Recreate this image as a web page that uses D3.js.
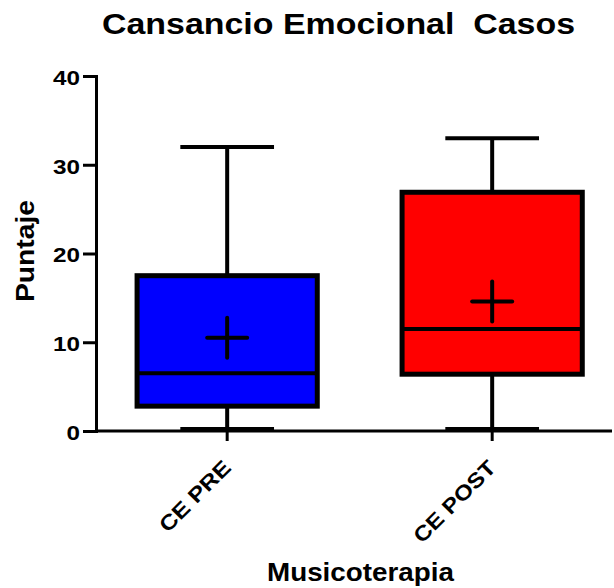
<!DOCTYPE html>
<html lang="es">
<head>
<meta charset="UTF-8">
<title>Cansancio Emocional Casos</title>
<script src="https://d3js.org/d3.v7.min.js"></script>
<style>
  body { margin: 0; background: #fff; }
  text { font-family: "Liberation Sans", Arial, sans-serif; font-weight: bold; fill: #000; }
</style>
</head>
<body>
<div id="chart"></div>
<script>
  const categories = ['CE PRE', 'CE POST'];
  const mins = [0, 0];
  const q1s = [2.8, 6.4];
  const medians = [6.5, 11.5];
  const q3s = [17.5, 26.9];
  const maxs = [32, 33];
  const means = [10.5, 14.6];
  const colors = ['#0000ff', '#ff0000'];
  const yTicks = [0, 10, 20, 30, 40];

  const width = 614;
  const height = 588;
  const margin = { top: 76, right: 0, bottom: 157, left: 96 };

  const svg = d3.select('#chart')
    .append('svg')
    .attr('width', width)
    .attr('height', height);

  // step 265, band 180
  const x = d3.scaleBand()
    .domain(categories)
    .range([margin.left, margin.left + 265 * (2 - 0.32 + 2 * 0.155)])
    .paddingInner(0.32)
    .paddingOuter(0.155);

  const y = d3.scaleLinear()
    .domain([0, 40])
    .range([height - margin.bottom, margin.top]);

  const boxes = categories.map((c, i) => ({
    cat: c, min: mins[i], q1: q1s[i], med: medians[i], q3: q3s[i], max: maxs[i], mean: means[i], color: colors[i]
  }));

  // y axis
  const yAxis = svg.append('g')
    .attr('transform', `translate(${margin.left},0)`)
    .call(d3.axisLeft(y).tickValues(yTicks).tickSize(13).tickPadding(3));
  yAxis.select('.domain').attr('stroke', '#000').attr('stroke-width', 3);
  yAxis.selectAll('.tick line').attr('stroke', '#000').attr('stroke-width', 3);
  yAxis.selectAll('.tick text')
    .style('font-size', '21px')
    .style('font-family', '"Liberation Sans", Arial, sans-serif')
    .style('font-weight', 'bold')
    .attr('dy', '0.4em')
    .attr('textLength', d => String(d).length * 13.5)
    .attr('lengthAdjust', 'spacingAndGlyphs');

  // x axis line
  svg.append('line')
    .attr('x1', margin.left).attr('x2', width - 2)
    .attr('y1', y(0)).attr('y2', y(0))
    .attr('stroke', '#000').attr('stroke-width', 3);

  const cx = d => x(d.cat) + x.bandwidth() / 2;
  const capW = x.bandwidth() * 0.52;

  const g = svg.selectAll('.box')
    .data(boxes)
    .enter().append('g');

  // whiskers
  g.append('line')
    .attr('x1', cx).attr('x2', cx)
    .attr('y1', d => y(d.max)).attr('y2', d => y(d.min))
    .attr('stroke', '#000').attr('stroke-width', 4);
  g.append('line')
    .attr('x1', d => cx(d) - capW / 2).attr('x2', d => cx(d) + capW / 2)
    .attr('y1', d => y(d.max)).attr('y2', d => y(d.max))
    .attr('stroke', '#000').attr('stroke-width', 4);
  g.append('line')
    .attr('x1', d => cx(d) - capW / 2).attr('x2', d => cx(d) + capW / 2)
    .attr('y1', d => y(d.min) - 2).attr('y2', d => y(d.min) - 2)
    .attr('stroke', '#000').attr('stroke-width', 4);

  // box
  g.append('rect')
    .attr('x', d => x(d.cat))
    .attr('width', x.bandwidth())
    .attr('y', d => y(d.q3))
    .attr('height', d => y(d.q1) - y(d.q3))
    .attr('fill', d => d.color)
    .attr('stroke', '#000').attr('stroke-width', 5);

  // median
  g.append('line')
    .attr('x1', d => x(d.cat)).attr('x2', d => x(d.cat) + x.bandwidth())
    .attr('y1', d => y(d.med)).attr('y2', d => y(d.med))
    .attr('stroke', '#000').attr('stroke-width', 4);

  // mean cross
  g.append('line')
    .attr('x1', d => cx(d) - 20).attr('x2', d => cx(d) + 20)
    .attr('y1', d => y(d.mean)).attr('y2', d => y(d.mean))
    .attr('stroke', '#000').attr('stroke-width', 4).attr('stroke-linecap', 'round');
  g.append('line')
    .attr('x1', cx).attr('x2', cx)
    .attr('y1', d => y(d.mean) - 20).attr('y2', d => y(d.mean) + 20)
    .attr('stroke', '#000').attr('stroke-width', 4).attr('stroke-linecap', 'round');

  // x ticks
  g.append('line')
    .attr('x1', cx).attr('x2', cx)
    .attr('y1', y(0)).attr('y2', y(0) + 10)
    .attr('stroke', '#000').attr('stroke-width', 3);

  // x tick labels
  g.append('text')
    .attr('transform', d => `translate(${cx(d) + 5},${y(0) + 38}) rotate(-45)`)
    .attr('text-anchor', 'end')
    .style('font-size', '21px')
    .attr('textLength', d => d.cat.length * 15.2)
    .attr('lengthAdjust', 'spacingAndGlyphs')
    .text(d => d.cat);

  // titles
  svg.append('text')
    .attr('x', 102).attr('y', 34)
    .style('font-size', '29px')
    .attr('textLength', 473)
    .attr('lengthAdjust', 'spacingAndGlyphs')
    .style('white-space', 'pre')
    .text('Cansancio Emocional  Casos');

  svg.append('text')
    .attr('transform', `translate(34,302) rotate(-90)`)
    .style('font-size', '25px')
    .attr('textLength', 102)
    .attr('lengthAdjust', 'spacingAndGlyphs')
    .text('Puntaje');

  svg.append('text')
    .attr('x', 267).attr('y', 581)
    .style('font-size', '26px')
    .attr('textLength', 187)
    .attr('lengthAdjust', 'spacingAndGlyphs')
    .text('Musicoterapia');
</script>
</body>
</html>
